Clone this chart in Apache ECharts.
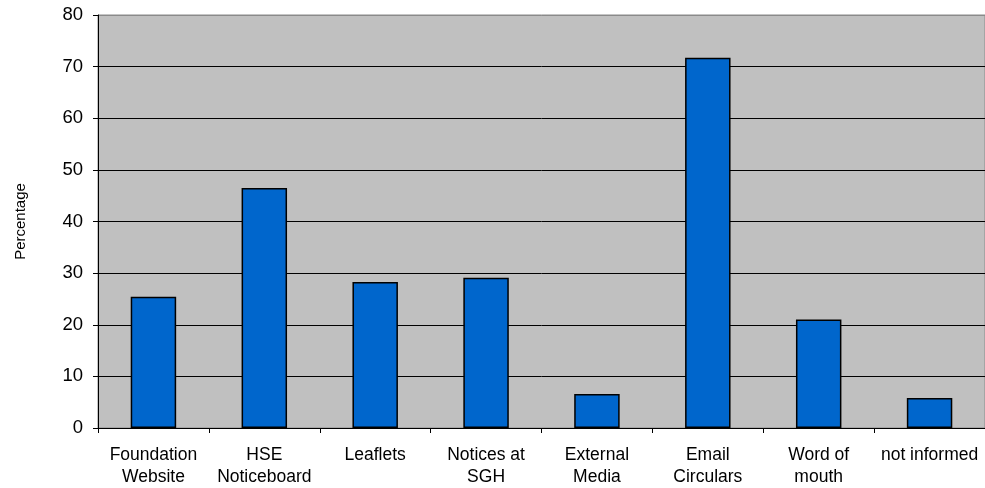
<!DOCTYPE html>
<html><head><meta charset="utf-8">
<script src="https://cdn.jsdelivr.net/npm/echarts@6/dist/echarts.min.js"></script>
<style>html,body{margin:0;padding:0;background:#fff}#c{width:985px;height:488px}</style>
</head><body><div id="c"></div>
<script>
const categories = ["Foundation\nWebsite", "HSE\nNoticeboard", "Leaflets", "Notices at\nSGH", "External\nMedia", "Email\nCirculars", "Word of\nmouth", "not informed"];
const values = [25.4, 46.5, 28.3, 29.1, 6.6, 71.7, 21.0, 5.8];
const yTicks = { min: 0, max: 80, interval: 10 };
const yTitle = "Percentage";

const chart = echarts.init(document.getElementById('c'), null, {renderer: 'canvas'});
chart.setOption({
  animation: false,
  backgroundColor: '#ffffff',
  grid: { left: 98, top: 15, width: 888, bottom: 60, show: true, backgroundColor: '#C0C0C0', borderColor: '#8a8a8a', borderWidth: 1 },
  xAxis: {
    type: 'category', data: categories,
    axisLine: { show: true, lineStyle: { color: '#000', width: 1 } },
    axisTick: { show: true, length: 5, lineStyle: { color: '#000' } },
    axisLabel: { color: '#000', fontFamily: 'Liberation Sans', fontSize: 17.5, lineHeight: 22, margin: 16, interval: 0 }
  },
  yAxis: {
    type: 'value', min: yTicks.min, max: yTicks.max, interval: yTicks.interval,
    name: yTitle, nameLocation: 'middle', nameGap: 70, nameRotate: 90,
    nameTextStyle: { color: '#000', fontFamily: 'Liberation Sans', fontSize: 15 },
    axisLine: { show: true, lineStyle: { color: '#000', width: 1 } },
    axisTick: { show: true, length: 5, lineStyle: { color: '#000' } },
    axisLabel: { color: '#000', fontFamily: 'Liberation Sans', fontSize: 18.5, margin: 15 },
    splitLine: { show: true, lineStyle: { color: ['#000','#000','#000','#000','#000','#000','#000','#000','#8a8a8a'], width: 1 } }
  },
  series: [{
    type: 'bar', data: values, barWidth: '41%',
    itemStyle: { color: '#0066CC', borderColor: '#000', borderWidth: 1.5 }
  }]
});
</script></body></html>
